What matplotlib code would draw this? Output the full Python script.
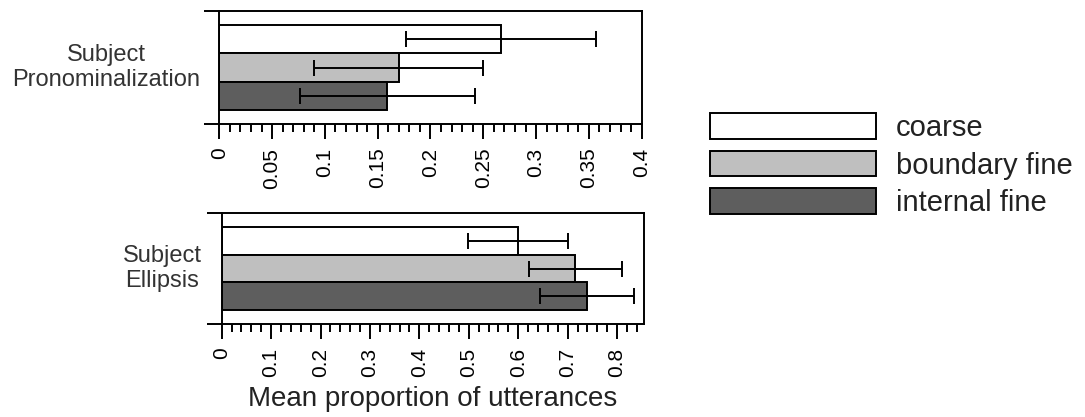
import matplotlib
matplotlib.use('Agg')
import matplotlib.pyplot as plt
from matplotlib.patches import Patch
from matplotlib.ticker import MultipleLocator

plt.rcParams['font.family'] = ['Liberation Sans', 'DejaVu Sans']

# データ
conditions = ['coarse', 'boundary fine', 'internal fine']
colors = ['#ffffff', '#bfbfbf', '#5e5e5e']

pron_mean = [0.267, 0.170, 0.159]
pron_err = [0.090, 0.080, 0.083]
ellip_mean = [0.600, 0.715, 0.740]
ellip_err = [0.101, 0.094, 0.095]

pron_ticks = [0, 0.05, 0.1, 0.15, 0.2, 0.25, 0.3, 0.35, 0.4]
pron_ticklabels = ['0', '0.05', '0.1', '0.15', '0.2', '0.25', '0.3', '0.35', '0.4']
ellip_ticks = [0, 0.1, 0.2, 0.3, 0.4, 0.5, 0.6, 0.7, 0.8]
ellip_ticklabels = ['0', '0.1', '0.2', '0.3', '0.4', '0.5', '0.6', '0.7', '0.8']

lw = 1.4
offsets = [-0.25, 0, 0.25]   # coarse が上
bar_h = 0.25

fig = plt.figure(figsize=(10.85, 4.17), dpi=100)
ax1 = fig.add_axes([0.2021, 0.7019, 0.3893, 0.2717])
ax2 = fig.add_axes([0.2043, 0.2223, 0.3895, 0.2676])


def draw_panel(ax, means, errs, ticks, ticklabels, xmax, minor, label, label_x):
    for i in range(len(means)):
        ax.barh(offsets[i], means[i], height=bar_h, color=colors[i],
                edgecolor='black', linewidth=lw, zorder=2)
        ax.errorbar(means[i], offsets[i], xerr=errs[i], fmt='none',
                    ecolor='black', elinewidth=lw, capsize=6, capthick=lw, zorder=3)
    ax.set_ylim(0.5, -0.5)
    ax.set_xlim(0, xmax)
    ax.set_yticks([-0.5, 0.5])
    ax.set_yticklabels([])
    ax.tick_params(axis='y', direction='out', length=10.8, width=lw)
    ax.set_xticks(ticks)
    ax.set_xticklabels(ticklabels, rotation=90, va='top', ha='center', fontsize=15)
    ax.xaxis.set_minor_locator(MultipleLocator(minor))
    ax.tick_params(axis='x', which='major', direction='out', length=10.8, width=lw, pad=6)
    ax.tick_params(axis='x', which='minor', direction='out', length=5.5, width=lw)
    for s in ax.spines.values():
        s.set_linewidth(lw)
    ax.text(label_x, 0.0, label, transform=ax.get_yaxis_transform(),
            ha='center', va='center', fontsize=17, color='#333333', linespacing=1.2)


draw_panel(ax1, pron_mean, pron_err, pron_ticks, pron_ticklabels, 0.4, 0.01,
           'Subject\nPronominalization', -0.268)
draw_panel(ax2, ellip_mean, ellip_err, ellip_ticks, ellip_ticklabels, 0.855, 0.02,
           'Subject\nEllipsis', -0.141)

ax2.set_xlabel('Mean proportion of utterances', fontsize=20, color='#222222', labelpad=7)

handles = [Patch(facecolor=colors[i], edgecolor='black', linewidth=lw, label=conditions[i])
           for i in range(len(conditions))]
leg = fig.legend(handles=handles, loc='upper left', bbox_to_anchor=(0.654, 0.728),
                 frameon=False, fontsize=21, handlelength=5.69, handleheight=0.97,
                 handletextpad=0.7, labelspacing=0.3, borderpad=0, borderaxespad=0)
for t in leg.get_texts():
    t.set_color('#222222')

plt.savefig('out.png', dpi=100)
